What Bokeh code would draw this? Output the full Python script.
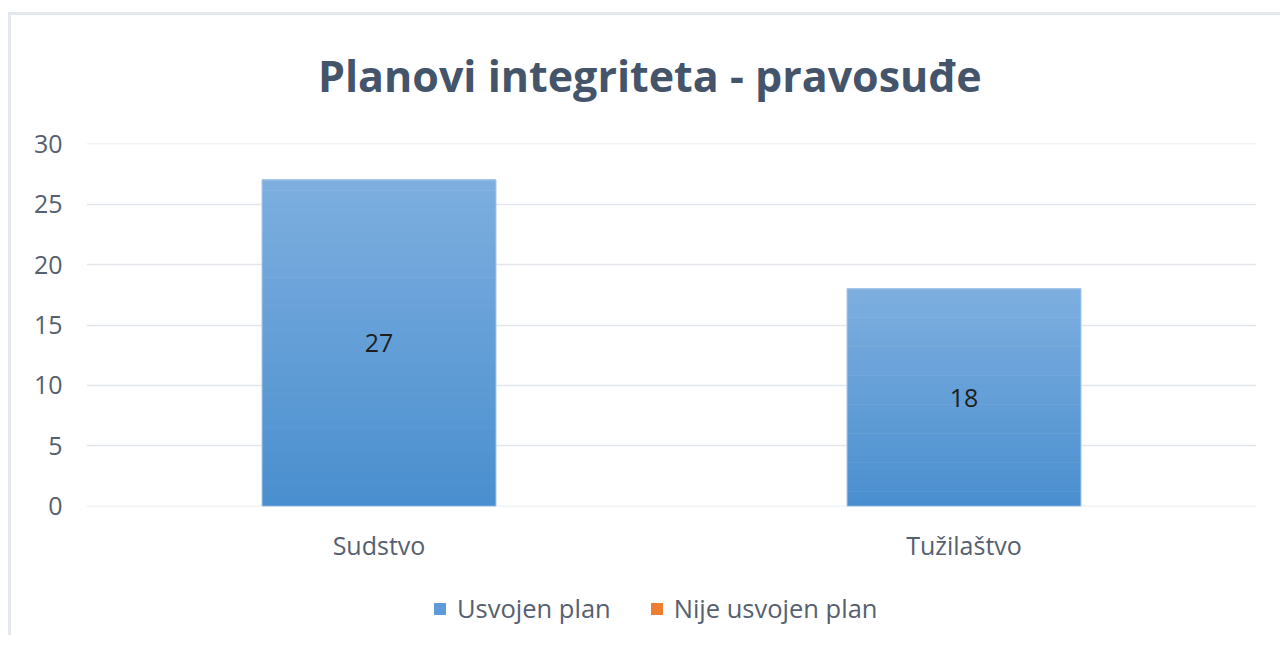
from bokeh.plotting import figure
from bokeh.models import (ColumnDataSource, FactorRange, Range1d, FixedTicker,
                          LabelSet, Label, Legend, LegendItem)
from bokeh.layouts import column
from bokeh.core.properties import value
from bokeh.embed import file_html
from bokeh.resources import INLINE

# ---- data ----
categories = ["Sudstvo", "Tužilaštvo"]
usvojen_plan = [27, 18]
nije_usvojen_plan = [0, 0]
series_names = ["Usvojen plan", "Nije usvojen plan"]
y_ticks = [0, 5, 10, 15, 20, 25, 30]
title_text = "Planovi integriteta - pravosuđe"

FONT = "Open Sans"
TEXT_COLOR = "#56606F"
GRID_COLOR = "#E2E6EC"
LIGHT = (0x7E, 0xAF, 0xE0)
DARK = (0x4A, 0x8F, 0xCF)
BLUE = "#5E9BD8"
ORANGE = "#ED7D31"

W = 1269

# ---- title strip ----
TH = 100
tf = figure(x_range=Range1d(0, W), y_range=Range1d(0, TH), width=W, height=TH,
            output_backend="svg", toolbar_location=None,
            x_axis_location=None, y_axis_location=None, min_border=0)
tf.outline_line_color = None
tf.xgrid.grid_line_color = None
tf.ygrid.grid_line_color = None
tf.add_layout(Label(x=251, y=40, text=title_text, text_font=FONT,
                    text_font_style="bold", text_font_size="43px",
                    text_color="#44546A", text_baseline="alphabetic",
                    text_align="left"))

# ---- main chart ----
p = figure(x_range=FactorRange(*categories, range_padding=0),
           y_range=Range1d(y_ticks[0] - 0.02, y_ticks[-1] + 0.02),
           width=W, height=460,
           output_backend="svg", toolbar_location=None,
           min_border_left=75, min_border_right=24,
           min_border_top=28, min_border_bottom=69)

p.outline_line_color = None
p.background_fill_color = "white"
p.border_fill_color = "white"

# gradient bars (stacked slices of each bar, light at top, dark at bottom)
N = 30
seg_x, seg_bottom, seg_top, seg_color = [], [], [], []
for cat, v in zip(categories, usvojen_plan):
    for i in range(N):
        t = (i + 0.5) / N
        r = int(DARK[0] + (LIGHT[0] - DARK[0]) * t)
        g = int(DARK[1] + (LIGHT[1] - DARK[1]) * t)
        b = int(DARK[2] + (LIGHT[2] - DARK[2]) * t)
        seg_x.append(cat)
        seg_bottom.append(v * i / N)
        seg_top.append(v * (i + 1) / N + v * 0.002)
        seg_color.append("#%02x%02x%02x" % (r, g, b))
seg_src = ColumnDataSource(dict(x=seg_x, bottom=seg_bottom, top=seg_top, color=seg_color))
p.vbar(x="x", bottom="bottom", top="top", width=0.4, source=seg_src,
       fill_color="color", line_color=None)

src = ColumnDataSource(dict(x=categories, usvojen=usvojen_plan,
                            nije=nije_usvojen_plan,
                            mid=[v / 2 for v in usvojen_plan],
                            lbl=[str(v) for v in usvojen_plan]))
# outline of full bar
p.vbar(x="x", top="usvojen", width=0.4, source=src, fill_color=None,
       line_color="#A8C8EA", line_width=1)

labels = LabelSet(x="x", y="mid", text="lbl", source=src, text_align="center",
                  text_baseline="middle", text_font=value(FONT),
                  text_font_size="25px", text_color="#1E1E1E")
p.add_layout(labels)

# axes
p.yaxis.ticker = FixedTicker(ticks=y_ticks)
p.yaxis.axis_line_color = None
p.yaxis.major_tick_line_color = None
p.yaxis.minor_tick_line_color = None
p.yaxis.major_label_standoff = 18
p.yaxis.major_label_text_font = FONT
p.yaxis.major_label_text_font_size = "25px"
p.yaxis.major_label_text_color = TEXT_COLOR

p.xaxis.axis_line_color = None
p.xaxis.major_tick_line_color = None
p.xaxis.minor_tick_line_color = None
p.xaxis.major_label_standoff = 15
p.xaxis.major_label_text_font = FONT
p.xaxis.major_label_text_font_size = "25px"
p.xaxis.major_label_text_color = TEXT_COLOR

p.xgrid.grid_line_color = None
p.ygrid.grid_line_color = GRID_COLOR
p.ygrid.grid_line_width = 1.5
p.ygrid.ticker = FixedTicker(ticks=y_ticks)

# ---- legend strip ----
lg = figure(x_range=FactorRange(*categories, range_padding=0),
            y_range=Range1d(0, 1), width=W, height=60,
            output_backend="svg", toolbar_location=None,
            x_axis_location=None, y_axis_location=None,
            min_border=0)
lg.outline_line_color = None
lg.xgrid.grid_line_color = None
lg.ygrid.grid_line_color = None
lsrc = ColumnDataSource(dict(x=categories, usvojen=[0, 0], nije=nije_usvojen_plan))
r_usv = lg.vbar(x="x", top="usvojen", width=0.4, source=lsrc, fill_color=BLUE,
                line_color=None)
r_nije = lg.vbar(x="x", top="nije", width=0.4, source=lsrc, fill_color=ORANGE,
                 line_color=None)
legend = Legend(items=[LegendItem(label=series_names[0], renderers=[r_usv]),
                       LegendItem(label=series_names[1], renderers=[r_nije])],
                orientation="horizontal", location=(346, 10),
                glyph_width=15, glyph_height=15, label_standoff=10, spacing=38,
                label_text_font=FONT, label_text_font_size="25.5px",
                label_text_color=TEXT_COLOR, border_line_color=None,
                background_fill_alpha=0, padding=0, margin=0)
lg.add_layout(legend, "center")

layout = column(tf, p, lg, styles={"margin-left": "8px", "margin-top": "12px",
                                   "border-top": "3px solid #E3E8EE",
                                   "border-left": "3px solid #E3E8EE"})

open("out.html", "w").write(file_html(layout, INLINE))
